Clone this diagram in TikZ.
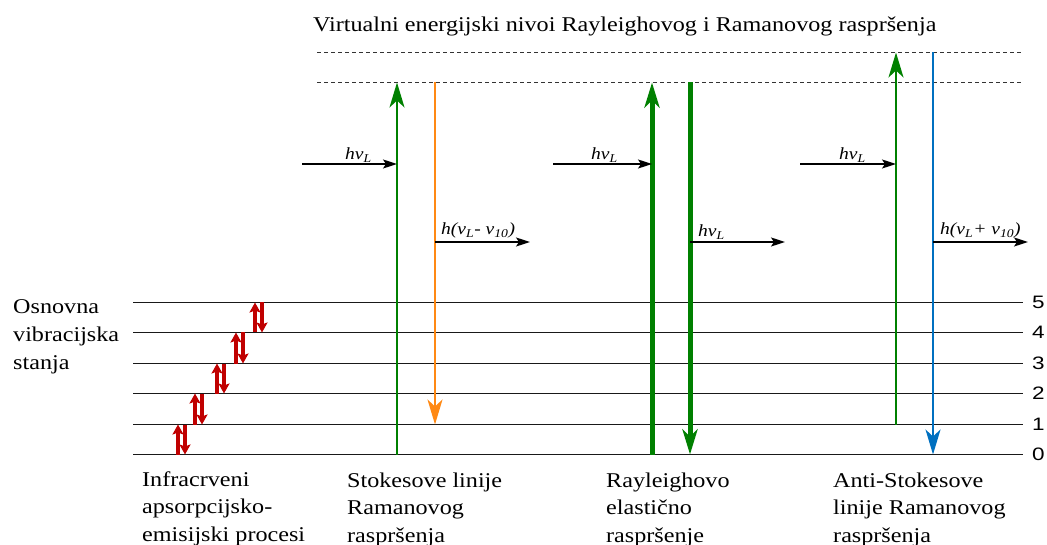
\documentclass[tikz,border=0pt]{standalone}
\usepackage{fontspec}
\setmainfont{Liberation Serif}[FakeStretch=1.15]
\newfontfamily\numfont{Liberation Sans}[FakeStretch=1.25]
\usetikzlibrary{arrows.meta}
\definecolor{ramgreen}{RGB}{0,128,0}
\definecolor{ramorange}{RGB}{255,137,20}
\definecolor{ramblue}{RGB}{0,112,192}
\definecolor{irred}{RGB}{192,0,0}
\begin{document}
\begin{tikzpicture}[x=1pt,y=-1pt,
  lvl/.style={line width=1.4pt, draw=black!90},
  virt/.style={dash pattern=on 4pt off 3pt, line width=0.9pt, draw=black!80},
  photon/.style={line width=1.6pt, draw=black, -{Stealth[length=14pt,width=9pt,inset=3pt]}},
  thinup/.style={line width=2pt, -{Stealth[length=25pt,width=15pt,inset=7pt]}},
  thickup/.style={line width=5pt, -{Stealth[length=25pt,width=15pt,inset=7pt]}},
  irarrow/.style={line width=3.6pt, draw=irred, -{Stealth[length=10pt,width=11pt,inset=2pt]}},
  lbl/.style={font=\fontsize{21}{27.5}\selectfont, align=left, inner sep=0pt, anchor=base west},
  phl/.style={font=\fontsize{17}{20}\selectfont\itshape, inner sep=0pt, anchor=base west},
  num/.style={font=\numfont\fontsize{18}{20}\selectfont, inner sep=0pt, anchor=west}]
\useasboundingbox (0,0) rectangle (1047,545);

% vibrational levels
\foreach \i/\yy in {0/454.5,1/424.5,2/393.5,3/363.5,4/332.5,5/302.5}{
  \coordinate (lvlL\i) at (133,\yy);
  \coordinate (lvlR\i) at (1023,\yy);
  \draw[lvl] (lvlL\i) -- (lvlR\i);
  \node[num] (num\i) at ([xshift=9pt]lvlR\i) {\i};
}

% virtual levels
\coordinate (vaL) at (317,52.5);  \coordinate (vaR) at (1023,52.5);
\coordinate (vbL) at (317,82.5);  \coordinate (vbR) at (1023,82.5);
\draw[virt] (vaL) -- (vaR);
\draw[virt] (vbL) -- (vbR);

\node[lbl] (title) at (313,31.7) {Virtualni energijski nivoi Rayleighovog i Ramanovog raspršenja};

% infrared absorption / emission
\foreach \i/\j/\xu in {0/1/178,1/2/195,2/3/217,3/4/236,4/5/255}{
  \draw[irarrow] (lvlL\i -| {\xu,0}) -- (lvlL\j -| {\xu,0});
  \draw[irarrow] (lvlL\j -| {\xu+7,0}) -- (lvlL\i -| {\xu+7,0});
}

% Stokes
\coordinate (sUp0) at (397,454.5); \coordinate (sUp1) at (397,82.5);
\coordinate (sDn0) at (435,82.5);  \coordinate (sDn1) at (435,424.5);
\draw[thinup, draw=ramgreen, fill=ramgreen] (sUp0) -- (sUp1);
\draw[thinup, draw=ramorange, fill=ramorange] (sDn0) -- (sDn1);
\coordinate (sIn) at (302,164); \coordinate (sInE) at (397,164);
\draw[photon] (sIn) -- (sInE);
\node[phl] (sInL) at (345,160) {hν\textsubscript{L}};
\coordinate (sOut) at (435,242); \coordinate (sOutE) at (530,242);
\draw[photon] (sOut) -- (sOutE);
\node[phl] (sOutL) at (441,235) {h(ν\textsubscript{L}- ν\textsubscript{10})};

% Rayleigh
\coordinate (rUp0) at (652,454.5); \coordinate (rUp1) at (652,82.5);
\coordinate (rDn0) at (690,82.5);  \coordinate (rDn1) at (690,454.5);
\draw[thickup, draw=ramgreen, fill=ramgreen] (rUp0) -- (rUp1);
\draw[thickup, draw=ramgreen, fill=ramgreen] (rDn0) -- (rDn1);
\coordinate (rIn) at (553,164); \coordinate (rInE) at (652,164);
\draw[photon] (rIn) -- (rInE);
\node[phl] (rInL) at (591,160) {hν\textsubscript{L}};
\coordinate (rOut) at (690,242); \coordinate (rOutE) at (785,242);
\draw[photon] (rOut) -- (rOutE);
\node[phl] (rOutL) at (698,237) {hν\textsubscript{L}};

% Anti-Stokes
\coordinate (aUp0) at (896,424.5);  \coordinate (aUp1) at (896,52.5);
\coordinate (aDn0) at (933,52.5);   \coordinate (aDn1) at (933,454.5);
\draw[thinup, draw=ramgreen, fill=ramgreen] (aUp0) -- (aUp1);
\draw[thinup, draw=ramblue, fill=ramblue] (aDn0) -- (aDn1);
\coordinate (aIn) at (800,164); \coordinate (aInE) at (896,164);
\draw[photon] (aIn) -- (aInE);
\node[phl] (aInL) at (839,160) {hν\textsubscript{L}};
\coordinate (aOut) at (933,242); \coordinate (aOutE) at (1028,242);
\draw[photon] (aOut) -- (aOutE);
\node[phl] (aOutL) at (940,235) {h(ν\textsubscript{L}+ ν\textsubscript{10})};

% texts (anchor = baseline of the last line)
\node[lbl, font=\fontsize{21}{28}\selectfont] (osn) at (13,370) {Osnovna\\vibracijska\\stanja};
\node[lbl] (ir) at (142,541) {Infracrveni\\apsorpcijsko-\\emisijski procesi};
\node[lbl] (st) at (347,542) {Stokesove linije\\Ramanovog\\raspršenja};
\node[lbl] (ry) at (606,542) {Rayleighovo\\elastično\\raspršenje};
\node[lbl] (as) at (833,542) {Anti-Stokesove\\linije Ramanovog\\raspršenja};
\end{tikzpicture}
\end{document}
